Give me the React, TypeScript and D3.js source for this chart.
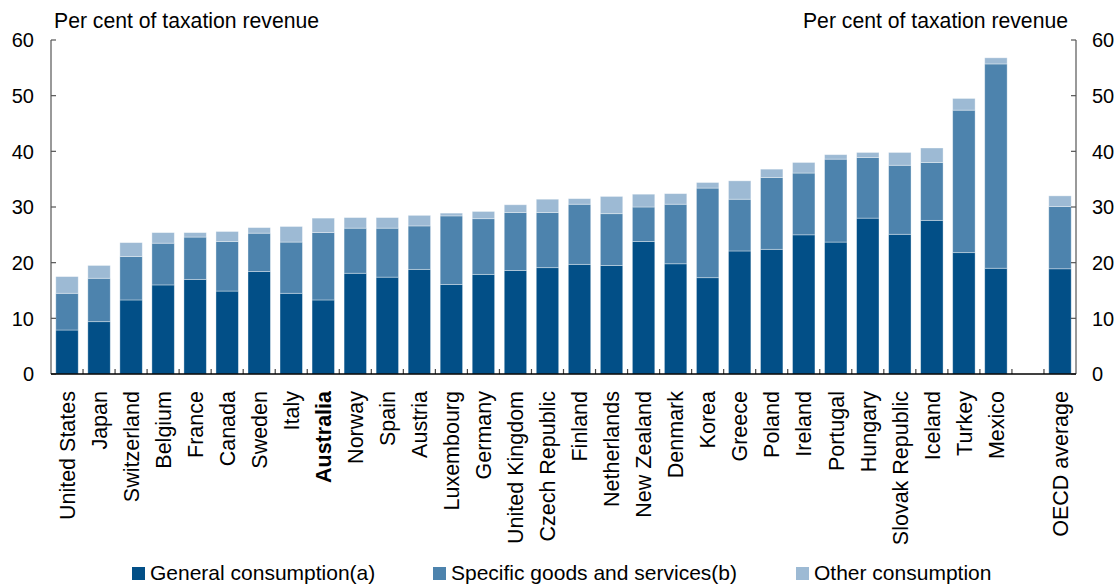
import React from "react";
import * as d3 from "d3";

const countries = [
  "United States", "Japan", "Switzerland", "Belgium", "France", "Canada", "Sweden", "Italy",
  "Australia", "Norway", "Spain", "Austria", "Luxembourg", "Germany", "United Kingdom",
  "Czech Republic", "Finland", "Netherlands", "New Zealand", "Denmark", "Korea", "Greece",
  "Poland", "Ireland", "Portugal", "Hungary", "Slovak Republic", "Iceland", "Turkey", "Mexico",
  "OECD average",
];
// cumulative tops
const general = [7.9, 9.4, 13.3, 16.0, 17.0, 14.9, 18.4, 14.5, 13.3, 18.1, 17.4, 18.8, 16.1, 17.9, 18.6, 19.1, 19.7, 19.5, 23.8, 19.8, 17.3, 22.1, 22.4, 25.0, 23.7, 28.0, 25.1, 27.6, 21.8, 19.0, 18.9];
const specificTop = [14.5, 17.2, 21.1, 23.5, 24.6, 23.8, 25.3, 23.7, 25.4, 26.2, 26.2, 26.6, 28.4, 27.9, 29.0, 29.0, 30.5, 28.8, 30.0, 30.5, 33.4, 31.4, 35.3, 36.1, 38.6, 38.9, 37.5, 38.0, 47.4, 55.7, 30.1];
const otherTop = [17.5, 19.5, 23.6, 25.4, 25.4, 25.6, 26.3, 26.5, 28.0, 28.1, 28.1, 28.5, 28.9, 29.2, 30.4, 31.4, 31.5, 31.9, 32.3, 32.4, 34.4, 34.7, 36.8, 38.0, 39.4, 39.8, 39.8, 40.6, 49.5, 56.8, 32.0];
const yTicks = [0, 10, 20, 30, 40, 50, 60];
const seriesNames = ["General consumption(a)", "Specific goods and services(b)", "Other consumption"];
const seriesColors = ["#024f87", "#4d83ad", "#9dbad4"];
const highlight = "Australia";
const GAP = "__gap";

const W = 1120, H = 584;
const left = 51, right = 1076, top = 40, bottom = 374;
const FONT = "Liberation Sans, Arial, sans-serif";

export default function App() {
  const domain = [...countries.slice(0, 30), GAP, countries[30]];
  const x = d3.scaleBand<string>().domain(domain).range([left, right]).paddingInner(0.3).paddingOuter(0.15);
  const y = d3.scaleLinear().domain([0, 60]).range([bottom, top]);
  const step = x.step();
  const bw = x.bandwidth();

  const segs: { key: string; c: number; y0: number; y1: number }[] = [];
  countries.forEach((c, i) => {
    const vals = [0, general[i], specificTop[i], otherTop[i]];
    for (let s = 0; s < 3; s++) segs.push({ key: c, c: s, y0: vals[s], y1: vals[s + 1] });
  });

  const boundaries = domain.slice(0, -1).map((d) => (x(d) as number) + bw + (step - bw) / 2);

  const legendX = [132, 433, 796];

  return (
    <svg width={W} height={H} style={{ position: "absolute", left: 0, top: 0 }} fontFamily={FONT}>
      <rect width={W} height={H} fill="#fff" />
      {segs.map((s, i) => (
        <rect
          key={i}
          x={x(s.key)}
          width={bw}
          y={y(s.y1)}
          height={y(s.y0) - y(s.y1)}
          fill={seriesColors[s.c]}
          stroke="#ffffff"
          strokeOpacity={0.45}
          strokeWidth={0.8}
        />
      ))}
      {/* y axes */}
      <line x1={left} x2={left} y1={top} y2={bottom} stroke="#555" strokeWidth={1.2} />
      <line x1={right} x2={right} y1={top} y2={bottom} stroke="#555" strokeWidth={1.2} />
      {yTicks.map((t) => (
        <g key={t}>
          <line x1={left} x2={left + 5} y1={y(t)} y2={y(t)} stroke="#555" strokeWidth={1.2} />
          <line x1={right - 5} x2={right} y1={y(t)} y2={y(t)} stroke="#555" strokeWidth={1.2} />
          <text x={34} y={y(t)} dy="0.36em" textAnchor="end" fontSize={20} fill="#000">{t}</text>
          <text x={1092} y={y(t)} dy="0.36em" textAnchor="start" fontSize={20} fill="#000">{t}</text>
        </g>
      ))}
      {/* x axis */}
      {boundaries.map((b, i) => (
        <line key={i} x1={b} x2={b} y1={bottom} y2={bottom - 5} stroke="#444" strokeWidth={1.2} />
      ))}
      <line x1={left} x2={right} y1={bottom} y2={bottom} stroke="#000" strokeWidth={1.4} />
      {countries.map((c) => {
        const cx = (x(c) as number) + bw / 2;
        return (
          <text
            key={c}
            transform={`translate(${cx},${391}) rotate(-90)`}
            dy="0.36em"
            textAnchor="end"
            fontSize={21.5}
            fontWeight={c === highlight ? "bold" : "normal"}
            fill="#000"
          >
            {c}
          </text>
        );
      })}
      {/* axis titles */}
      <text x={54} y={28} fontSize={21.2} fill="#000">Per cent of taxation revenue</text>
      <text x={1068} y={28} fontSize={21.2} textAnchor="end" fill="#000">Per cent of taxation revenue</text>
      {/* legend */}
      {seriesNames.map((n, i) => (
        <g key={n}>
          <rect x={legendX[i]} y={567} width={13} height={13} fill={seriesColors[i]} />
          <text x={legendX[i] + 18} y={580} fontSize={21} fill="#000">{n}</text>
        </g>
      ))}
    </svg>
  );
}
